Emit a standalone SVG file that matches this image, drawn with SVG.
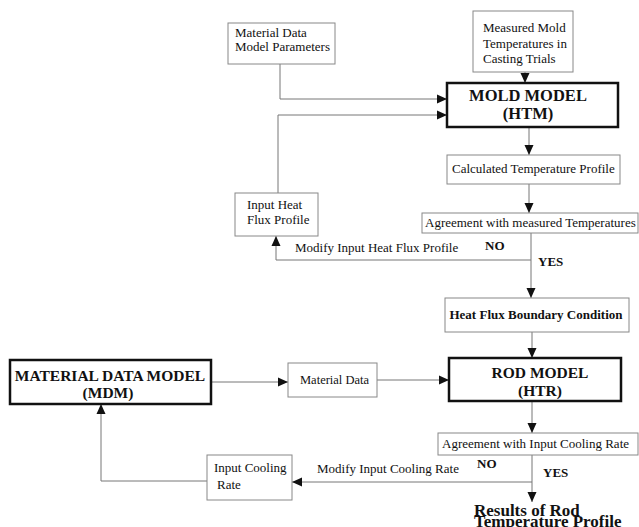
<svg xmlns="http://www.w3.org/2000/svg" width="639" height="527" viewBox="0 0 639 527">
<style>
text{font-family:"Liberation Serif","Times New Roman",serif;fill:#111}
.t{font-size:13px}
.b{font-weight:bold}
.box{fill:#fff;stroke:#888;stroke-width:1}
.thick{fill:#fff;stroke:#111;stroke-width:2.5}
.con path{fill:none;stroke:#777;stroke-width:1;marker-end:url(#ah)}
</style>
<defs>
<marker id="ah" markerUnits="userSpaceOnUse" markerWidth="10" markerHeight="10" viewBox="0 0 10 10" refX="10" refY="5" orient="auto">
<path d="M0,0.5 L10,5 L0,9.5 Z" fill="#111"/>
</marker>
</defs>
<rect width="639" height="527" fill="#fff"/>
<g class="con">
<path d="M280,64 V99 H447"/>
<path d="M278,193 V115 H447"/>
<path d="M525,72 V83"/>
<path d="M529,127 V155"/>
<path d="M529,184 V213"/>
<path d="M531,233 V298"/>
<path d="M531,260 H276 V236"/>
<path d="M532,332 V358"/>
<path d="M211,382 H288"/>
<path d="M377,380 H449"/>
<path d="M532,401 V433"/>
<path d="M532,455 V502"/>
<path d="M532,482 H292"/>
<path d="M207,481 H101 V404"/>
</g>
<g id="material-params"><rect class="box" x="228" y="23" width="107" height="41"/>
<text class="t" x="235" y="37">Material Data</text><text class="t" x="235" y="51">Model Parameters</text></g>
<g id="measured"><rect class="box" x="473" y="11" width="100" height="61"/>
<text class="t" x="483" y="32">Measured Mold</text><text class="t" x="483" y="48">Temperatures in</text><text class="t" x="483" y="63">Casting Trials</text></g>
<g id="mold-model"><rect class="thick" x="447" y="83" width="171" height="44"/>
<text class="b" font-size="16.5" x="528" y="101" text-anchor="middle">MOLD MODEL</text><text class="b" font-size="16.5" x="528" y="119" text-anchor="middle">(HTM)</text></g>
<g id="calc-profile"><rect class="box" x="447" y="155" width="173" height="29"/>
<text class="t" x="452" y="173">Calculated Temperature Profile</text></g>
<g id="agreement-measured"><rect class="box" x="422" y="213" width="216" height="20"/>
<text class="t" x="425" y="227">Agreement with measured Temperatures</text></g>
<g id="input-heat-flux"><rect class="box" x="235" y="193" width="83" height="43"/>
<text class="t" x="247" y="209">Input Heat</text><text class="t" x="247" y="224">Flux Profile</text></g>
<g id="labels1"><text class="t" x="295" y="252">Modify Input Heat Flux Profile</text>
<text class="t b" x="485" y="250">NO</text><text class="t b" x="538" y="266">YES</text></g>
<g id="heat-flux-bc"><rect class="box" x="445" y="298" width="184" height="34"/>
<text class="t b" x="536" y="319" text-anchor="middle">Heat Flux Boundary Condition</text></g>
<g id="mdm"><rect class="thick" x="10" y="360" width="201" height="44"/>
<text class="b" font-size="15.5" x="110" y="381" text-anchor="middle">MATERIAL DATA MODEL</text><text class="b" font-size="15.5" x="108" y="398" text-anchor="middle">(MDM)</text></g>
<g id="material-data"><rect class="box" x="288" y="363" width="89" height="34"/>
<text font-size="12.5" x="300" y="384">Material Data</text></g>
<g id="rod-model"><rect class="thick" x="449" y="358" width="172" height="43"/>
<text class="b" font-size="15.5" x="540" y="378" text-anchor="middle">ROD MODEL</text><text class="b" font-size="15.5" x="540" y="396" text-anchor="middle">(HTR)</text></g>
<g id="agreement-cooling"><rect class="box" x="438" y="433" width="200" height="22"/>
<text class="t" x="442" y="448">Agreement with Input Cooling Rate</text></g>
<g id="input-cooling"><rect class="box" x="207" y="455" width="85" height="45"/>
<text class="t" x="214" y="472">Input Cooling</text><text class="t" x="217" y="489">Rate</text></g>
<g id="labels2"><text class="t" x="317" y="473">Modify Input Cooling Rate</text>
<text class="t b" x="477" y="468">NO</text><text class="t b" x="543" y="477">YES</text></g>
<g id="results"><text class="b" font-size="17" x="474" y="516">Results of  Rod</text><text class="b" font-size="17" x="474" y="527">Temperature Profile</text></g>
</svg>
